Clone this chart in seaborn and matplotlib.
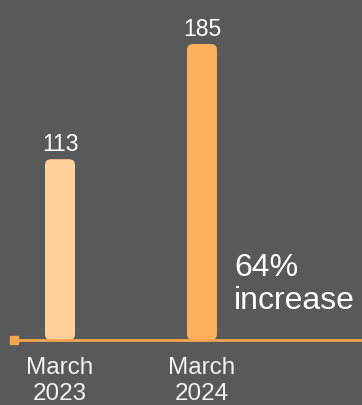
import numpy as np
import matplotlib
matplotlib.use("Agg")
import matplotlib.pyplot as plt
import seaborn as sns
from matplotlib.patches import FancyBboxPatch, Rectangle

# data
months = ["March\n2023", "March\n2024"]
values = [113, 185]
bar_colors = ["#fed19b", "#fbb059"]
note = "64%\nincrease"

bg = "#58595b"
line_col = "#f5a54a"

sns.set_style("white")
plt.rcParams["font.family"] = ["Liberation Sans", "DejaVu Sans"]

fig = plt.figure(figsize=(3.62, 4.05), dpi=100)
fig.patch.set_facecolor(bg)
ax = fig.add_axes([0, 65 / 405, 1, 340 / 405])
ax.set_facecolor(bg)

sns.barplot(x=months, y=values, hue=months, palette=bar_colors,
            width=0.211, legend=False, ax=ax, saturation=1)

ax.set_xlim(-60 / 142, 302 / 142)
ax.set_ylim(0, 340 / 1.6)

# rounded tops for the bars
x_unit, y_unit = 142, 1.6
for p in list(ax.patches):
    x0, w, h = p.get_x(), p.get_width(), p.get_height()
    fc = p.get_facecolor()
    p.remove()
    r = 6 / x_unit
    fb = FancyBboxPatch((x0, 0), w, h,
                        boxstyle=f"round,pad=0,rounding_size={r}",
                        mutation_aspect=x_unit / y_unit,
                        facecolor=fc, edgecolor="none", zorder=2)
    ax.add_patch(fb)
    clip = Rectangle((x0 - 1, 0), w + 2, 1000, transform=ax.transData)
    fb.set_clip_path(clip)
    ax.annotate(str(int(h)), (x0 + w / 2, h), xytext=(0, 2.5),
                textcoords="offset points", ha="center", va="bottom",
                fontsize=16.5, color="white")

# baseline with square end
for s in ["top", "right", "left"]:
    ax.spines[s].set_visible(False)
ax.spines["bottom"].set_color(line_col)
ax.spines["bottom"].set_linewidth(2)
x_start = (13.5 - 60) / 142
ax.spines["bottom"].set_bounds(x_start, 302 / 142)
ax.spines["bottom"].set_zorder(3)
ax.plot([x_start], [0], marker="s", markersize=5.5, color=line_col,
        clip_on=False, zorder=4)

ax.set_yticks([])
ax.set_xlabel("")
ax.tick_params(axis="x", length=0, pad=12, labelsize=17.5, labelcolor="#f2f2f2")
for lab in ax.get_xticklabels():
    lab.set_linespacing(1.25)

ax.text((234 - 60) / 142, 54.5, note, ha="left", va="top",
        fontsize=23, color="white", linespacing=1.15)

fig.savefig("out.png", dpi=100, facecolor=bg)
